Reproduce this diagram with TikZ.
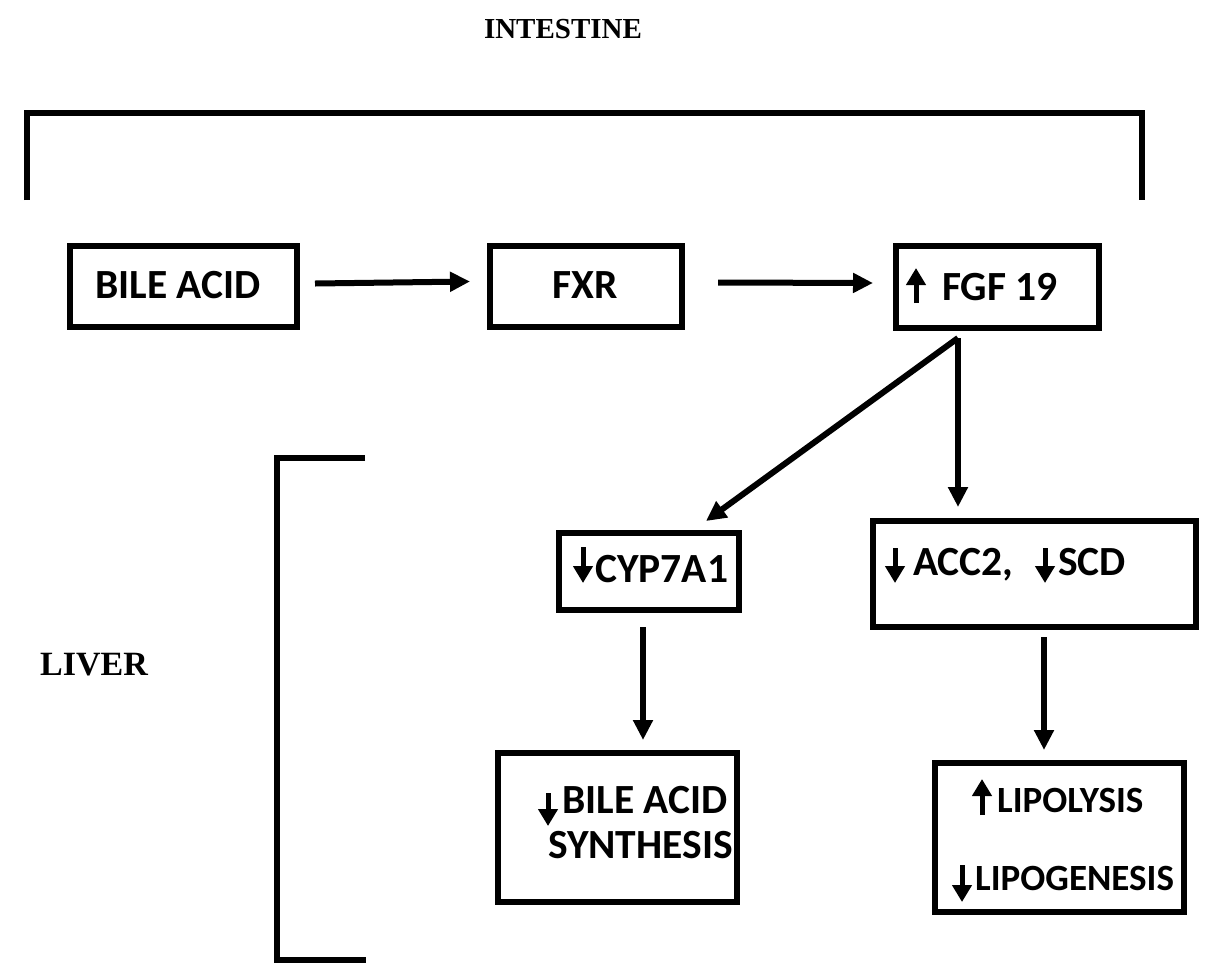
\documentclass[tikz,border=0pt]{standalone}
\usepackage{fontspec}
\setmainfont{Carlito}
\newfontfamily\serifbf{Liberation Serif}
\usetikzlibrary{arrows.meta}
\begin{document}
\begin{tikzpicture}[x=1pt,y=-1pt,
  box/.style={draw, line width=6pt, inner sep=0pt, rectangle},
  conn/.style={line width=6pt, -{Triangle[length=20pt,width=19pt]}},
  glyph/.style={line width=5pt, -{Triangle[length=17pt,width=19pt]}},
  bracketline/.style={line width=6pt, miter limit=10},
  lbl/.style={inner sep=0pt, anchor=base west, font=\bfseries\fontsize{41.5}{49}\selectfont},
  lblsm/.style={inner sep=0pt, anchor=base west, font=\bfseries\fontsize{37}{44}\selectfont},
  ttl/.style={inner sep=0pt, font=\serifbf\bfseries\fontsize{29}{35}\selectfont}]
\useasboundingbox (0,0) rectangle (1206,962);
% titles
\node[ttl, anchor=base] (intestine) at (563,38) {INTESTINE};
\node[ttl, anchor=base west, font=\serifbf\bfseries\fontsize{34}{40}\selectfont] (liver) at (40,675) {LIVER};
% brackets
\draw[bracketline] (27,200) -- (27,113) -- (1142,113) -- (1142,200);
\draw[bracketline] (365,458) -- (277,458) -- (277,960) -- (366,960);
% boxes
\node[box, minimum width=227pt, minimum height=81pt] (ba) at (183.5,286.5) {};
\node[box, minimum width=192pt, minimum height=81pt] (fxr) at (586,286.5) {};
\node[box, minimum width=203pt, minimum height=82pt] (fgf) at (997.5,287) {};
\node[box, minimum width=180pt, minimum height=77pt] (cyp) at (649,571.5) {};
\node[box, minimum width=323pt, minimum height=106pt] (acc) at (1034.5,574) {};
\node[box, minimum width=239pt, minimum height=149pt] (bas) at (617.5,827.5) {};
\node[box, minimum width=249pt, minimum height=149pt] (lip) at (1059.5,837.5) {};
% texts
\node[lbl] (tba) at (95,298) {BILE ACID};
\node[lbl, anchor=base] (tfxr) at (585,298) {FXR};
\node[lbl] (tfgf) at (942,300) {FGF 19};
\node[lbl] (tcyp) at (595,582) {CYP7A1};
\node[lbl] (tacc) at (913,575) {ACC2,};
\node[lbl] (tscd) at (1058,575) {SCD};
\node[lbl] (tbas) at (562,813) {BILE ACID};
\node[lbl] (tsyn) at (548,858) {SYNTHESIS};
\node[lblsm] (tlys) at (997,812) {LIPOLYSIS};
\node[lblsm] (tgen) at (975,890) {LIPOGENESIS};
% up/down marks
\draw[glyph] (916,303) -- (916,268);
\draw[glyph] (583,547) -- (583,583);
\draw[glyph] (895,548) -- (895,583);
\draw[glyph] (1045,548) -- (1045,583);
\draw[glyph] (548,793) -- (548,826);
\draw[glyph] (982,815) -- (982,779);
\draw[glyph] (962,865) -- (962,902);
% connectors
\draw[conn] ([xshift=15pt,yshift=3pt]ba.east) -- ([xshift=-17pt,yshift=5pt]fxr.west);
\draw[conn] ([xshift=33pt,yshift=4pt]fxr.east) -- ([xshift=-20pt,yshift=4pt]fgf.west);
\coordinate (fgfout) at ([xshift=-39.5pt,yshift=-7pt]fgf.south);
\draw[conn] (fgfout) -- ([xshift=57pt,yshift=9pt]cyp.north);
\draw[conn] (fgfout) -- ([xshift=-76.5pt,yshift=11pt]acc.north);
\draw[conn] ([xshift=-6pt,yshift=-14pt]cyp.south) -- ([xshift=25.5pt,yshift=10pt]bas.north);
\draw[conn] ([xshift=9.5pt,yshift=-7pt]acc.south) -- ([xshift=-15.5pt,yshift=10pt]lip.north);
\end{tikzpicture}
\end{document}
